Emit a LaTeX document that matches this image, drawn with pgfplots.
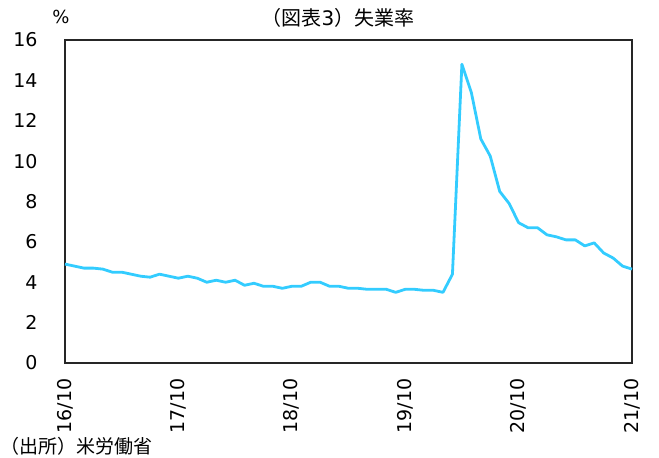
\documentclass[border=0pt]{standalone}
\usepackage{pgfplots}
\pgfplotsset{compat=1.18}
\usepackage{fontspec}
\setmainfont{DejaVu Sans}
\newfontfamily\cjk{Noto Sans CJK JP}
\definecolor{lineblue}{RGB}{51,204,255}
\pgfplotstableread{
x y
0 4.9
1 4.8
2 4.7
3 4.7
4 4.65
5 4.5
6 4.5
7 4.4
8 4.3
9 4.25
10 4.4
11 4.3
12 4.2
13 4.3
14 4.2
15 4.0
16 4.1
17 4.0
18 4.1
19 3.85
20 3.95
21 3.8
22 3.8
23 3.7
24 3.8
25 3.8
26 4.0
27 4.0
28 3.8
29 3.8
30 3.7
31 3.7
32 3.65
33 3.65
34 3.65
35 3.5
36 3.65
37 3.65
38 3.6
39 3.6
40 3.5
41 4.4
42 14.8
43 13.4
44 11.1
45 10.25
46 8.5
47 7.9
48 6.95
49 6.7
50 6.7
51 6.35
52 6.25
53 6.1
54 6.1
55 5.8
56 5.95
57 5.45
58 5.2
59 4.8
60 4.65
}\unemp
\begin{document}
\begin{tikzpicture}[x=1pt,y=1pt]
\useasboundingbox (0,0) rectangle (659,458);
\begin{axis}[
  at={(65pt,95pt)}, anchor=south west,
  width=567pt, height=323pt, scale only axis,
  xmin=0, xmax=60, ymin=0, ymax=16,
  xtick={0,12,24,36,48,60},
  xticklabels={16/10,17/10,18/10,19/10,20/10,21/10},
  ytick={0,2,...,16},
  major tick length=0pt,
  /pgf/number format/assume math mode=true,
  tick label style={font=\fontsize{19}{22}\selectfont, text=black},
  xticklabel style={rotate=90, anchor=east, yshift=0pt, xshift=-12pt},
  yticklabel style={anchor=east, xshift=-24pt},
  axis line style={line width=1.3pt, black!85},
  clip=false,
]
\addplot[lineblue, line width=2.8pt, line join=round] table[x=x,y=y]{\unemp};
\end{axis}
\node[font=\cjk\fontsize{20}{22}\selectfont] at (338,440) {（図表{\fontspec{DejaVu Sans}3}）失業率};
\node[font=\fontsize{18}{20}\selectfont] at (61,441) {\%};
\node[font=\cjk\fontsize{19}{21}\selectfont, anchor=west, inner sep=0pt] at (0,12) {（出所）米労働省};
\end{tikzpicture}
\end{document}
